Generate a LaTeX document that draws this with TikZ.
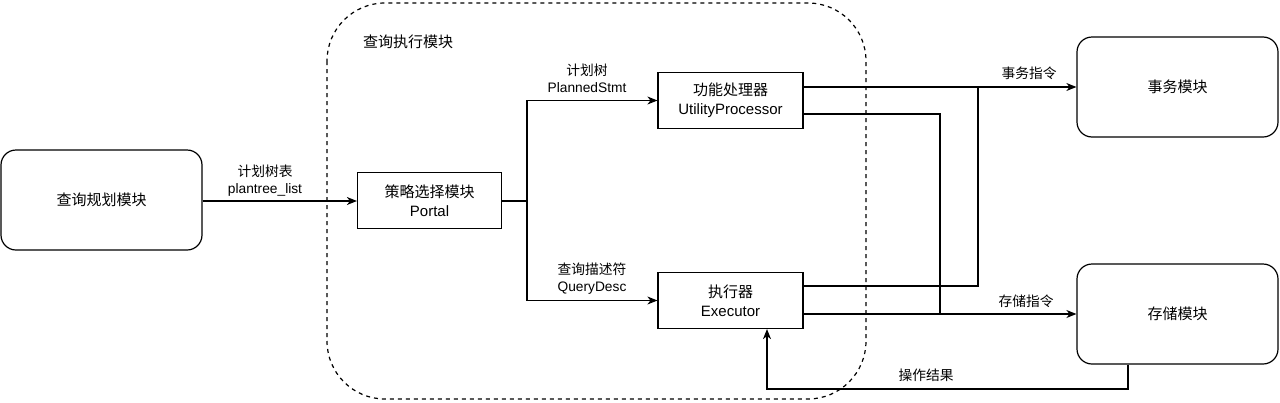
\documentclass[tikz,border=0pt]{standalone}
\usepackage{fontspec}
\setmainfont{Liberation Sans}
\newfontfamily\cjk{Noto Sans CJK SC}
\usetikzlibrary{arrows.meta}
\tikzset{
  base/.style={draw=black, line width=1.2pt, align=center, font=\fontsize{15}{19}\selectfont, inner sep=0pt},
  rbox/.style={base, rounded corners=15pt, minimum width=201pt, minimum height=100pt},
  sbox/.style={base, minimum width=145pt, minimum height=56pt},
  conn/.style={line width=1.2pt, draw=black},
  arr/.style={conn, -{Stealth[length=10pt,width=8pt,inset=3pt]}},
  lbl/.style={align=center, font=\fontsize{13.75}{17}\selectfont, inner sep=0pt},
  region/.style={draw=black, line width=1.2pt, dash pattern=on 4pt off 4pt, rounded corners=58pt}
}
\begin{document}
\begin{tikzpicture}[x=1pt,y=-1pt]
\useasboundingbox (0,0) rectangle (1280,402);
% dashed region
\draw[region] (327,3) rectangle (866,399);
\node[lbl, font=\fontsize{15}{19}\selectfont, anchor=west] (title) at (363,42) {\cjk 查询执行模块};
% nodes
\node[rbox] (plan) at (101.5,200) {\cjk 查询规划模块};
\node[sbox, minimum width=144pt] (portal) at (429.5,200.5) {{\cjk 策略选择模块}\\Portal};
\node[sbox] (util) at (730.5,100.5) {{\cjk 功能处理器}\\UtilityProcessor};
\node[sbox] (exec) at (730.5,300.5) {{\cjk 执行器}\\Executor};
\node[rbox] (txn) at (1177.5,87) {\cjk 事务模块};
\node[rbox] (store) at (1177.5,314) {\cjk 存储模块};
% helper coordinates
\coordinate (split) at (527,201);
\coordinate (ujoin) at (940,314);
\coordinate (ejoin) at (978,87);
\coordinate (fb1) at (1128,389);
\coordinate (fb2) at (767,389);
% connectors
\draw[arr] (plan.east |- split) -- (portal.west |- split);
\node[lbl] (l1) at (265,180.5) {{\cjk 计划树表}\\plantree\_list};
\draw[conn] (portal.east |- split) -- (split);
\draw[arr] (split) |- (util.west);
\draw[arr] (split) |- (exec.west);
\node[lbl] (l2) at (587,78.5) {{\cjk 计划树}\\PlannedStmt};
\node[lbl] (l3) at (592,279) {{\cjk 查询描述符}\\QueryDesc};
\draw[arr] (util.east |- txn.west) -- (txn.west);
\draw[conn] (util.east |- 0,114) -| (ujoin);
\draw[conn] (exec.east |- 0,286) -| (ejoin);
\draw[arr] (exec.east |- store.west) -- (store.west);
\node[lbl] (l4) at (1029,73) {\cjk 事务指令};
\node[lbl] (l5) at (1026,301) {\cjk 存储指令};
\draw[arr] (store.south -| fb1) -- (fb1) -- (fb2) -- (exec.south -| fb2);
\node[lbl] (l6) at (926,375) {\cjk 操作结果};
\end{tikzpicture}
\end{document}
